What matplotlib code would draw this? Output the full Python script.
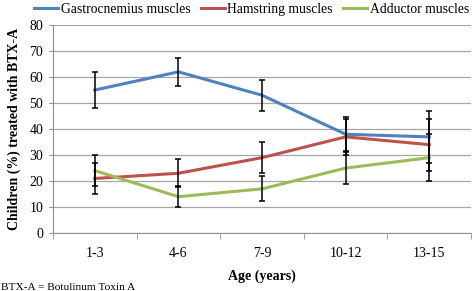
import numpy as np
import matplotlib.pyplot as plt

ages = ['1-3', '4-6', '7-9', '10-12', '13-15']
gastro = [55, 62, 53, 38, 37]
gastro_err = [7, 5.5, 6, 6.5, 10]
hamstring = [21, 23, 29, 37, 34]
hamstring_err = [6, 5.3, 6, 6.8, 10]
adductor = [24, 14, 17, 25, 29]
adductor_err = [6, 4, 4.8, 6, 9]

plt.rcParams['font.family'] = ['Liberation Serif', 'DejaVu Serif']

fig = plt.figure(figsize=(4.73, 2.91), dpi=100)
ax = fig.add_axes([0.112, 0.199, 0.884, 0.715])

x = np.arange(len(ages))
series = [
    ('Gastrocnemius muscles', gastro, gastro_err, '#4F81BD'),
    ('Hamstring muscles', hamstring, hamstring_err, '#C0504D'),
    ('Adductor muscles', adductor, adductor_err, '#9BBB59'),
]
for name, vals, err, col in series:
    ax.plot(x, vals, color=col, lw=2.2, label=name, zorder=3)
    ax.errorbar(x, vals, yerr=err, fmt='none', ecolor='black', elinewidth=1.1,
                capsize=2.4, capthick=1.1, zorder=4)

ax.set_xlim(-0.5, 4.5)
ax.set_ylim(0, 80)
ax.set_yticks(range(0, 81, 10))
ax.yaxis.grid(True, color='#a6a6a6', lw=0.9)
ax.set_axisbelow(True)
ax.set_xticks(x)
ax.set_xticklabels(ages)
ax.set_xticks(np.arange(-0.5, 5, 1), minor=True)
ax.tick_params(axis='x', which='major', length=0, pad=10, labelsize=10)
ax.tick_params(axis='x', which='minor', length=4, color='#909090')
ax.tick_params(axis='y', length=3, color='#909090', labelsize=10, pad=4)
for s in ['top', 'right']:
    ax.spines[s].set_visible(False)
for s in ['left', 'bottom']:
    ax.spines[s].set_color('#909090')

ax.set_xlabel('Age (years)', fontweight='bold', fontsize=10, labelpad=7)
ax.set_ylabel('Children (%) treated with BTX-A', fontweight='bold', fontsize=10, labelpad=6)

fig.legend(loc='upper center', bbox_to_anchor=(0.532, 1.022), ncol=3, frameon=False,
           fontsize=9.8, handlelength=1.75, handletextpad=0.2, columnspacing=0.75,
           borderaxespad=0.3)
fig.text(0.002, 0.004, 'BTX-A = Botulinum Toxin A', fontsize=8.2)

fig.savefig('out.png', dpi=100)
